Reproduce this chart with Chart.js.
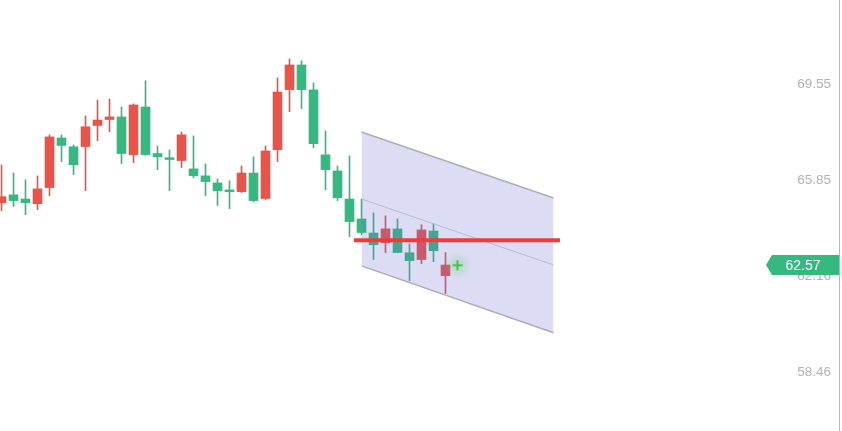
<!DOCTYPE html>
<html>
<head>
<meta charset="utf-8">
<script src="https://cdn.jsdelivr.net/npm/chart.js@4"></script>
<style>
  html, body { margin: 0; padding: 0; background: #ffffff; }
  #wrap { width: 842px; height: 431px; }
</style>
</head>
<body>
<div id="wrap"><canvas id="chart"></canvas></div>
<script>
// candle data, one entry per bar (index 0 is the leftmost, partly cut off)
const opens  = [64.98, 65.28, 65.12, 64.94, 65.56, 67.47, 67.13, 67.14, 67.95, 68.18,
                68.28, 66.83, 68.66, 66.87, 66.71, 66.60, 66.28, 66.01, 65.74, 65.47,
                65.40, 66.12, 65.14, 67.02, 69.33, 70.28, 69.32, 66.82, 66.20, 65.12,
                64.35, 63.81, 63.44, 63.97, 63.05, 62.79, 63.89, 62.17];
const closes = [65.21, 65.06, 64.98, 65.51, 67.51, 67.18, 66.44, 67.90, 68.16, 68.28,
                66.87, 68.74, 66.83, 66.75, 66.64, 67.59, 66.02, 65.79, 65.44, 65.40,
                66.12, 65.06, 66.97, 69.24, 70.28, 69.33, 67.25, 66.25, 65.17, 64.25,
                63.83, 63.36, 63.97, 63.06, 62.75, 63.93, 63.13, 62.58];
const highs  = [66.43, 66.12, 65.86, 66.01, 67.59, 67.59, 67.20, 68.32, 68.93, 68.97,
                68.66, 68.78, 69.67, 67.16, 67.01, 67.70, 67.55, 66.47, 65.89, 65.82,
                66.39, 66.74, 67.16, 69.78, 70.51, 70.44, 69.59, 67.74, 66.39, 66.78,
                65.12, 64.58, 64.47, 64.35, 63.39, 64.13, 64.16, 63.06];
const lows   = [64.67, 64.83, 64.52, 64.71, 65.25, 66.56, 66.06, 65.44, 67.37, 67.71,
                66.48, 66.52, 66.80, 66.25, 65.44, 66.33, 65.94, 65.25, 64.87, 64.75,
                65.37, 65.02, 65.10, 66.56, 68.48, 68.60, 67.10, 65.48, 65.06, 63.67,
                63.75, 62.79, 63.06, 63.06, 61.98, 62.63, 62.71, 61.48];

// y axis ticks
const tickValues = [58.46, 62.16, 65.85, 69.55];
const tickLabels = ['58.46', '62.16', '65.85', '69.55'];

// drawn channel: start/end bar index and upper, middle, lower price at each end
const channelX      = [30, 46];
const channelUpper  = [67.70, 65.16];
const channelMiddle = [65.12, 62.58];
const channelLower  = [62.545, 59.97];

// horizontal level line
const levelX     = [29.375, 46.54];
const levelPrice = 63.53;

// last price marker
const lastIndex = 38;
const lastPrice = 62.57;

const UP = '#e8534a';
const DOWN = '#35b980';

const bodies = opens.map((o, i) => ({ x: i, y: [o, closes[i]] }));
const wicks = highs.map((h, i) => ({ x: i, y: [lows[i], h] }));
const candleColors = opens.map((o, i) => closes[i] >= o ? UP : DOWN);

// glowing cross used as the point style of the last price marker
const crossImg = document.createElement('canvas');
crossImg.width = 30;
crossImg.height = 30;
(function () {
    const c = crossImg.getContext('2d');
    const g = c.createRadialGradient(15, 15, 0, 15, 15, 14);
    g.addColorStop(0, 'rgba(90, 220, 90, 0.35)');
    g.addColorStop(1, 'rgba(90, 220, 90, 0)');
    c.fillStyle = g;
    c.fillRect(0, 0, 30, 30);
    c.strokeStyle = '#3ec84b';
    c.lineWidth = 2;
    c.beginPath();
    c.moveTo(10, 15); c.lineTo(20, 15);
    c.moveTo(15, 10); c.lineTo(15, 20);
    c.stroke();
})();

// price tag on the right axis
const priceTag = {
    id: 'priceTag',
    afterDraw(chart) {
        const ctx = chart.ctx;
        const y = Math.round(chart.scales.y.getPixelForValue(lastPrice));
        const right = chart.chartArea.right;
        ctx.save();
        ctx.fillStyle = DOWN;
        ctx.beginPath();
        ctx.moveTo(766, y);
        ctx.lineTo(772, y - 10);
        ctx.lineTo(right, y - 10);
        ctx.lineTo(right, y + 10);
        ctx.lineTo(772, y + 10);
        ctx.closePath();
        ctx.fill();
        ctx.fillStyle = '#ffffff';
        ctx.font = '14px "Liberation Sans", Arial, sans-serif';
        ctx.textAlign = 'center';
        ctx.textBaseline = 'middle';
        ctx.fillText(lastPrice.toFixed(2), 803, y + 1);
        ctx.restore();
    }
};

new Chart(document.getElementById('chart'), {
    type: 'bar',
    data: {
        datasets: [
            {
                type: 'scatter',
                data: [{ x: lastIndex, y: lastPrice }],
                pointStyle: crossImg,
                pointRadius: 10,
                order: 0
            },
            {
                type: 'line',
                data: levelX.map(x => ({ x: x, y: levelPrice })),
                borderColor: '#f23a3a',
                borderWidth: 4,
                pointRadius: 0,
                fill: false,
                order: 1
            },
            {
                type: 'line',
                data: channelX.map((x, i) => ({ x: x, y: channelMiddle[i] })),
                borderColor: 'rgba(180, 180, 200, 0.85)',
                borderWidth: 1,
                pointRadius: 0,
                fill: false,
                order: 2
            },
            {
                type: 'line',
                data: channelX.map((x, i) => ({ x: x, y: channelUpper[i] })),
                borderColor: '#adadb5',
                borderWidth: 1.5,
                pointRadius: 0,
                fill: false,
                order: 3
            },
            {
                type: 'line',
                data: channelX.map((x, i) => ({ x: x, y: channelLower[i] })),
                borderColor: '#adadb5',
                borderWidth: 1.5,
                backgroundColor: 'rgba(110, 110, 210, 0.24)',
                pointRadius: 0,
                fill: '-1',
                order: 4
            },
            {
                data: bodies,
                backgroundColor: candleColors,
                barThickness: 9,
                grouped: false,
                borderWidth: 0,
                order: 5
            },
            {
                data: wicks,
                backgroundColor: candleColors,
                barThickness: 1,
                grouped: false,
                borderWidth: 0,
                order: 6
            }
        ]
    },
    options: {
        responsive: true,
        maintainAspectRatio: false,
        animation: false,
        layout: { autoPadding: false, padding: { top: 0, left: 0, right: 3, bottom: 0 } },
        plugins: {
            legend: { display: false },
            tooltip: { enabled: false }
        },
        scales: {
            x: {
                type: 'linear',
                display: false,
                offset: false,
                min: -0.125,
                max: -0.125 + 839 / 12
            },
            y: {
                type: 'linear',
                position: 'right',
                min: 56.19,
                max: 72.78,
                grid: { display: false },
                border: { display: true, color: '#f5a572', width: 1 },
                afterBuildTicks(scale) {
                    scale.ticks = tickValues.map(v => ({ value: v }));
                },
                afterFit(scale) {
                    scale.paddingTop = 0;
                    scale.paddingBottom = 0;
                    scale.width = 0;
                },
                ticks: {
                    mirror: true,
                    padding: -8,
                    color: '#b0b0bf',
                    font: { family: '"Liberation Sans", Arial, sans-serif', size: 13.5 },
                    callback: (v, i) => tickLabels[i]
                }
            }
        }
    },
    plugins: [priceTag]
});
</script>
</body>
</html>
